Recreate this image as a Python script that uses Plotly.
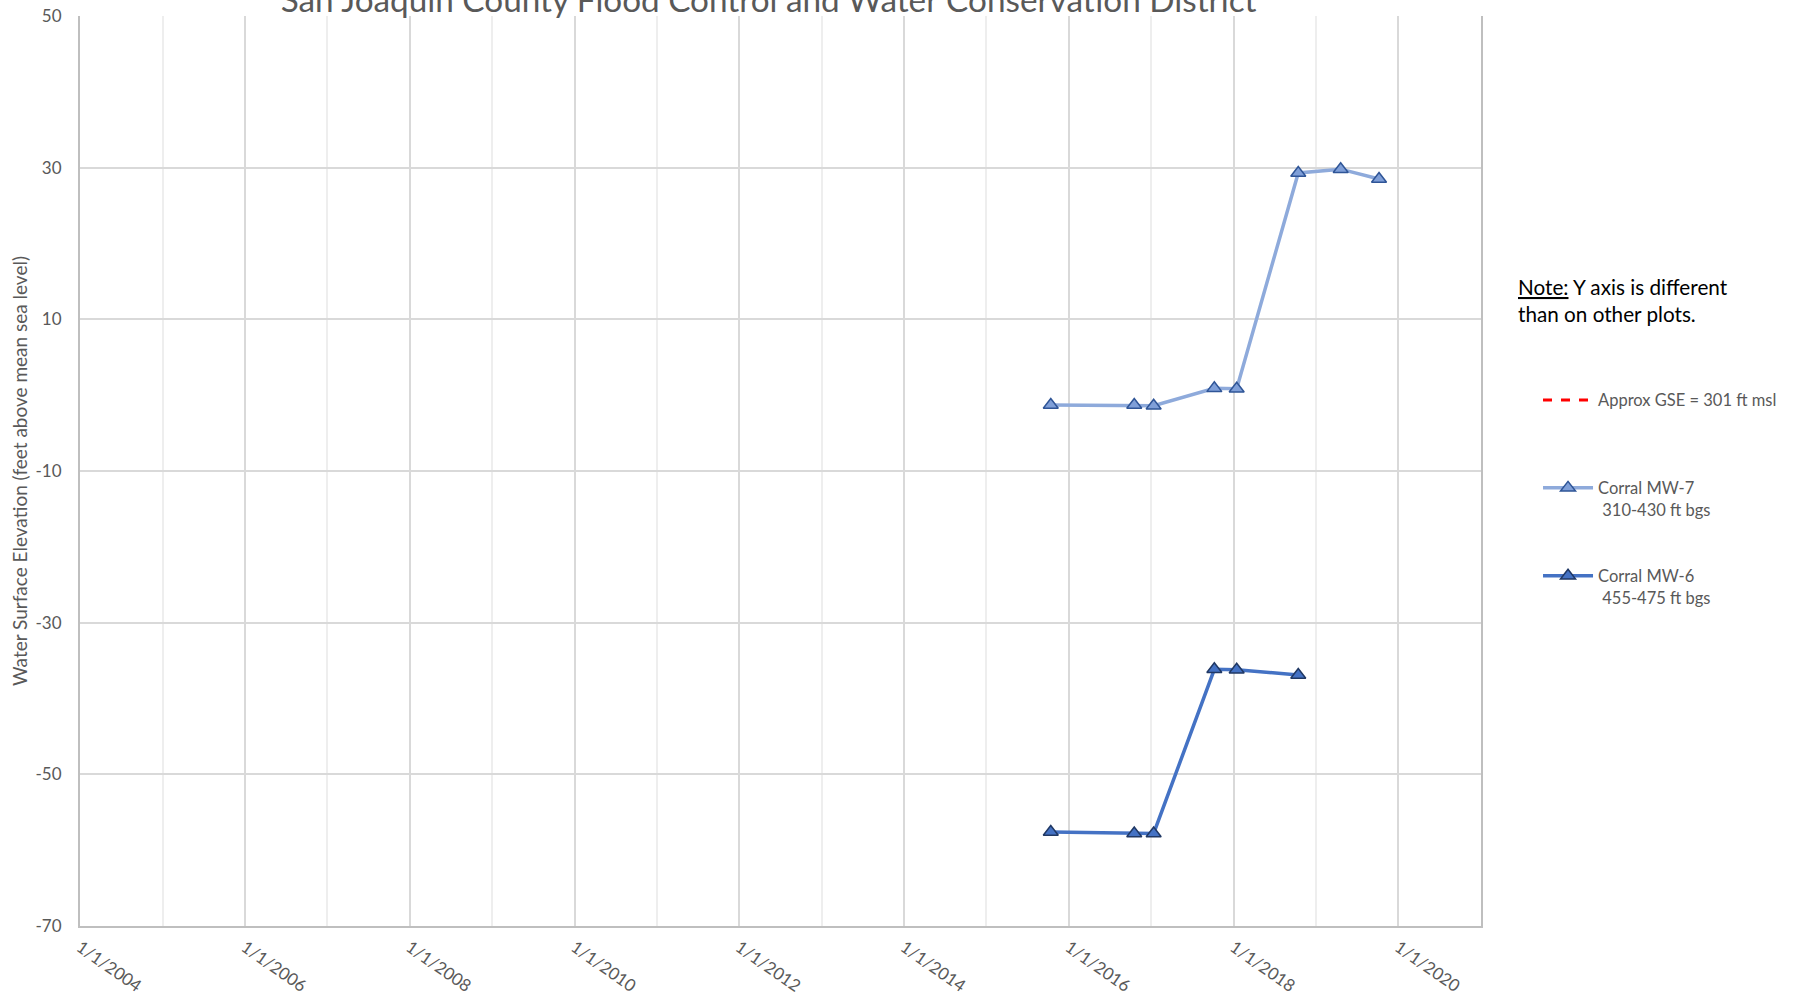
import plotly.graph_objects as go

# ---- data ----
mw7_dates = ["2015-10-13", "2016-10-17", "2017-01-11", "2017-10-07", "2018-01-14",
             "2018-10-14", "2019-04-20", "2019-10-07"]
mw7_elev = [-1.3, -1.3, -1.4, 0.9, 0.85, 29.3, 29.8, 28.5]

mw6_dates = ["2015-10-13", "2016-10-17", "2017-01-11", "2017-10-07", "2018-01-14",
             "2018-10-14"]
mw6_elev = [-57.6, -57.8, -57.8, -36.15, -36.2, -36.9]

gse_dates = ["2004-01-01", "2021-01-01"]
gse_elev = [301, 301]

x_range = ["2004-01-01", "2021-01-01"]
y_range = [-70, 50]
y_tickvals = [50, 30, 10, -10, -30, -50, -70]
y_ticktext = ["50", "30", "10", "-10", "-30", "-50", "-70"]

title_text = "San Joaquin County Flood Control and Water Conservation District"
y_title = "Water Surface Elevation (feet above mean sea level)"
note_text = ('<span style="text-decoration:underline">Note:</span> Y axis is different'
             '<br>than on other plots.')

FONT = "Lato"
GREY = "#595959"

fig = go.Figure()

fig.add_trace(go.Scatter(
    x=gse_dates, y=gse_elev, mode="lines",
    name="Approx GSE = 301 ft msl<br>\u00a0",
    line=dict(color="#ff0000", width=3, dash="dash"),
    legendgroup="g1",
))
fig.add_trace(go.Scatter(
    x=mw7_dates, y=mw7_elev, mode="lines+markers",
    name="Corral MW-7<br>\u00a0310-430 ft bgs",
    line=dict(color="#8eaadb", width=3.5),
    marker=dict(symbol="triangle-up", size=13, color="#7f9fd8",
                line=dict(color="#2f5597", width=1.5)),
    legendgroup="g2",
))
fig.add_trace(go.Scatter(
    x=mw6_dates, y=mw6_elev, mode="lines+markers",
    name="Corral MW-6<br>\u00a0455-475 ft bgs",
    line=dict(color="#4472c4", width=3.5),
    marker=dict(symbol="triangle-up", size=13, color="#4472c4",
                line=dict(color="#203864", width=1.5)),
    legendgroup="g3",
))

fig.update_layout(
    width=1799, height=995,
    margin=dict(l=80, r=318, t=16, b=69, autoexpand=False),
    paper_bgcolor="white", plot_bgcolor="white",
    font=dict(family=FONT, color=GREY, size=17),
    title=dict(text=title_text, font=dict(family=FONT, size=33.3, color=GREY),
               x=0.4915, xref="paper", xanchor="center",
               y=1.0, yref="container", yanchor="middle"),
    showlegend=True,
    legend=dict(x=1.0407, xanchor="left", y=0.597, yanchor="top",
                font=dict(family=FONT, size=16.5, color=GREY),
                tracegroupgap=42, valign="top", itemwidth=50,
                bgcolor="rgba(0,0,0,0)"),
    annotations=[dict(
        text=note_text, x=1.025, xref="paper", xanchor="left",
        y=0.7175, yref="paper", yanchor="top", align="left", showarrow=False,
        font=dict(family=FONT, size=20.7, color="black"),
    )],
)

fig.update_xaxes(
    type="date", range=x_range, automargin=False,
    dtick="M24", tick0="2004-01-01", tickformat="%-m/%-d/%Y",
    tickangle=35, tickfont=dict(size=17, color=GREY), ticklabelstandoff=3,
    showgrid=True, gridcolor="#d9d9d9", gridwidth=1.5,
    minor=dict(dtick="M12", showgrid=True, gridcolor="#eeeeee", gridwidth=1.5),
    showline=True, linecolor="#bfbfbf", linewidth=2,
    ticks="", zeroline=False,
)
fig.update_yaxes(
    range=y_range, tickmode="array", tickvals=y_tickvals, ticktext=y_ticktext,
    automargin=False,
    tickfont=dict(size=17, color=GREY),
    showgrid=True, gridcolor="#d9d9d9", gridwidth=1.5,
    showline=True, linecolor="#bfbfbf", linewidth=2, mirror=True,
    ticks="", zeroline=False, ticklabelstandoff=13,
    title=dict(text=y_title, font=dict(family=FONT, size=19, color=GREY), standoff=3),
)

fig.write_html("out.html",
               config={"displayModeBar": False},
               post_script="document.body.style.margin='0';document.body.style.overflow='hidden';")
